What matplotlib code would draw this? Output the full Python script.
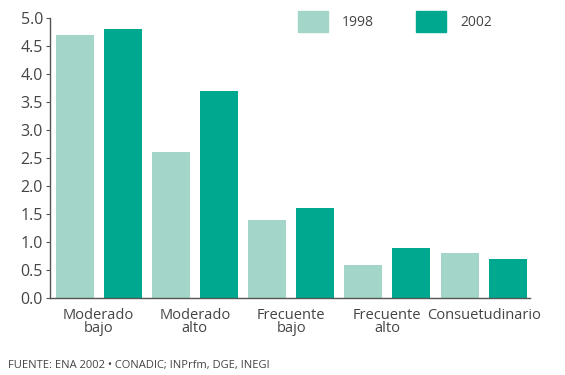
import numpy as np
import matplotlib.pyplot as plt
from matplotlib.patches import Patch

plt.rcParams["font.family"] = ["Open Sans", "DejaVu Sans"]

# Data
categories = ["Moderado\nbajo", "Moderado\nalto", "Frecuente\nbajo", "Frecuente\nalto", "Consuetudinario"]
values_1998 = [4.7, 2.6, 1.4, 0.6, 0.8]
values_2002 = [4.8, 3.7, 1.6, 0.9, 0.7]
series_labels = ["1998", "2002"]
yticks = np.arange(0, 5.01, 0.5)

color_1998 = "#a3d6c8"
color_2002 = "#00a88f"
text_color = "#444444"

fig = plt.figure(figsize=(5.65, 3.75), dpi=100)
ax = fig.add_axes([0.0885, 0.205, 0.85, 0.747])

idx = np.arange(len(categories))
pos_1998 = idx * 2
pos_2002 = idx * 2 + 1
width = 0.79

ax.bar(pos_1998, values_1998, width=width, color=color_1998)
ax.bar(pos_2002, values_2002, width=width, color=color_2002)

ax.set_xlim(-0.51, 9.47)
ax.set_ylim(0, 5.0)
ax.set_yticks(yticks)
ax.set_yticklabels([f"{v:.1f}" for v in yticks], fontsize=11.5, color=text_color)
ax.set_xticks(idx * 2 + 0.5)
ax.set_xticklabels(categories, fontsize=10.5, color=text_color, linespacing=0.85)
ax.tick_params(axis="x", length=0, pad=7)
ax.tick_params(axis="y", length=3, width=0.8, color="#555555", pad=2)

for side in ["top", "right"]:
    ax.spines[side].set_visible(False)
for side in ["left", "bottom"]:
    ax.spines[side].set_color("#555555")
    ax.spines[side].set_linewidth(1.0)

handles = [Patch(color=color_1998), Patch(color=color_2002)]
ax.legend(handles, series_labels, ncol=2, frameon=False, fontsize=10,
          labelcolor=text_color, handlelength=2.2, handleheight=2.0,
          columnspacing=3.0, handletextpad=1.0,
          loc="upper left", bbox_to_anchor=(0.49, 1.07))

fig.text(0.014, 0.018, "FUENTE: ENA 2002 • CONADIC; INPrfm, DGE, INEGI",
         fontsize=8, color=text_color)

plt.savefig("out.png", dpi=100)
